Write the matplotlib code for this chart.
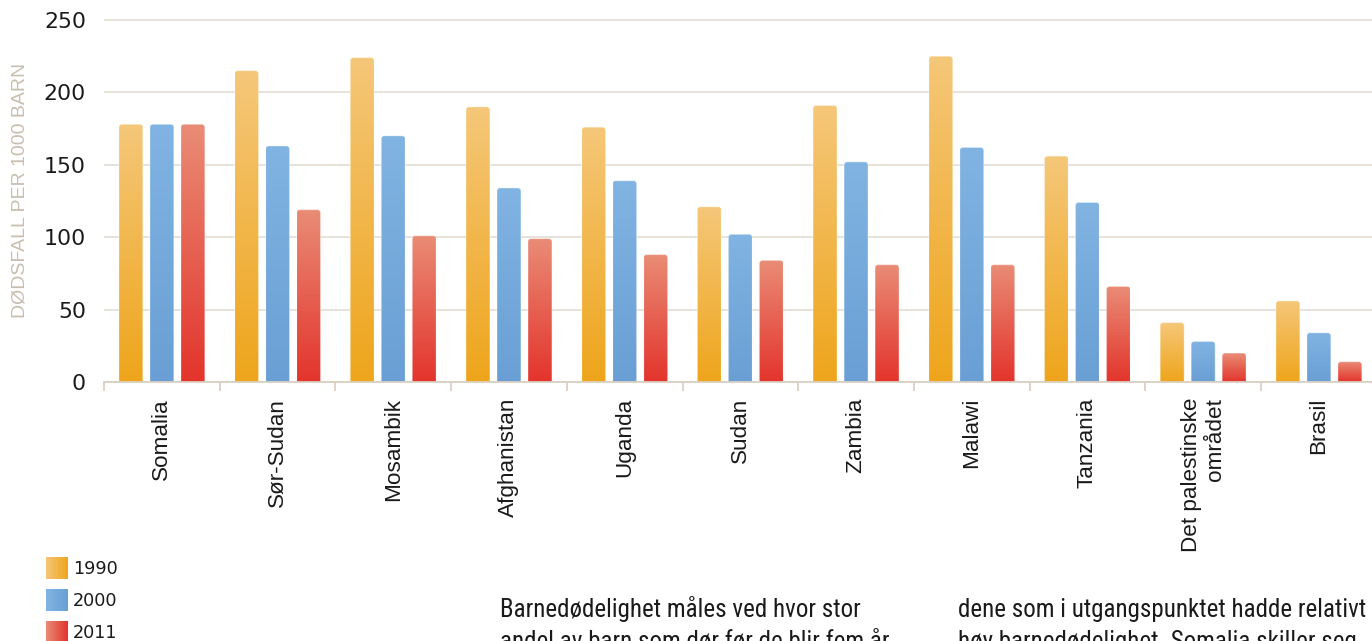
import numpy as np
import matplotlib
matplotlib.use("Agg")
import matplotlib.pyplot as plt
from matplotlib.patches import FancyBboxPatch
from matplotlib import font_manager
from matplotlib.colors import to_rgb

# ---- data -----------------------------------------------------------------
countries = ["Somalia", "Sør-Sudan", "Mosambik", "Afghanistan", "Uganda", "Sudan",
             "Zambia", "Malawi", "Tanzania", "Det palestinske\nområdet", "Brasil"]
years = ["1990", "2000", "2011"]
deaths_1990 = [178, 215, 224, 190, 176, 121, 191, 225, 156, 41, 56]
deaths_2000 = [178, 163, 170, 134, 139, 102, 152, 162, 124, 28, 34]
deaths_2011 = [178, 119, 101, 99, 88, 84, 81, 81, 66, 20, 14]
y_ticks = [0, 50, 100, 150, 200, 250]
y_label = "DØDSFALL PER 1000 BARN"
body_left = ["Barnedødelighet måles ved hvor stor",
             "andel av barn som dør før de blir fem år"]
body_right = ["dene som i utgangspunktet hadde relativt",
              "høy barnedødelighet. Somalia skiller seg"]

# ---- style ----------------------------------------------------------------
series = [deaths_1990, deaths_2000, deaths_2011]
gradients = [("#f5c779", "#eea51b"),   # top, bottom
             ("#81b4e2", "#6a9fd5"),
             ("#e98c76", "#e3342c")]
grid_col = "#e6e0d7"
axis_col = "#d9d0c2"
text_col = "#1a1a1a"

installed = {f.name for f in font_manager.fontManager.ttflist}
label_font = "Liberation Sans" if "Liberation Sans" in installed else "DejaVu Sans"
narrow_font = next((n for n in ["Liberation Sans Narrow", "Arial Narrow", "Roboto Condensed"]
                    if n in installed), None)

W, H = 1372, 641
fig = plt.figure(figsize=(W / 100, H / 100), dpi=100)

cat_px = 115.7
ymax = 252
px_per_unit = 362 / 250
ax = fig.add_axes([104 / W, (H - 382) / H, cat_px * 11 / W, px_per_unit * ymax / H])

x = np.arange(len(countries))
offsets = np.array([-31, 0, 31]) / cat_px
bar_w = 24 / cat_px
aspect = cat_px / px_per_unit
radius = 3 / cat_px


def gradient_img(top, bottom, n=256):
    t = np.linspace(0, 1, n)[:, None]
    c0 = np.array(to_rgb(top))
    c1 = np.array(to_rgb(bottom))
    return (c0 * (1 - t) + c1 * t)[:, None, :]


for vals, off, (top, bottom) in zip(series, offsets, gradients):
    bars = ax.bar(x + off, vals, bar_w, color="none", edgecolor="none")
    img = gradient_img(top, bottom)
    for rect in bars:
        x0, w, h = rect.get_x(), rect.get_width(), rect.get_height()
        shape = FancyBboxPatch((x0, -5), w, h + 5,
                               boxstyle=f"round,pad=0,rounding_size={radius}",
                               mutation_aspect=aspect,
                               facecolor="none", edgecolor=(1, 1, 1, 0.35),
                               linewidth=0.8, zorder=3)
        ax.add_patch(shape)
        im = ax.imshow(img, extent=(x0, x0 + w, 0, h), origin="upper",
                       aspect="auto", interpolation="bilinear", zorder=2)
        im.set_clip_path(shape)

ax.set_xlim(-0.5, len(countries) - 0.5)
ax.set_ylim(0, ymax)

# grid and axes
ax.set_yticks(y_ticks)
ax.yaxis.grid(True, color=grid_col, linewidth=1.3)
ax.set_axisbelow(True)
for s in ["top", "right", "left"]:
    ax.spines[s].set_visible(False)
ax.spines["bottom"].set_color(axis_col)
ax.spines["bottom"].set_linewidth(1.3)
ax.spines["bottom"].set_zorder(4)

ax.tick_params(axis="y", length=0, pad=13, labelsize=15.8, labelcolor=text_col)
for lab in ax.get_yticklabels():
    lab.set_family("DejaVu Sans")

ax.set_xticks(x)
ax.set_xticklabels(countries, rotation=90, family=label_font, fontsize=16.2,
                   color=text_col)
for lab in ax.get_xticklabels():
    lab.set_multialignment("right")
ax.tick_params(axis="x", which="major", length=0, pad=11.5)
ax.set_xticks(np.arange(-0.5, len(countries), 1), minor=True)
ax.tick_params(axis="x", which="minor", length=6.5, width=1.3, color=axis_col)

fig.text(20 / W, 1 - 190 / H, y_label, rotation=90, ha="center", va="center",
         fontsize=14, color="#c8beb0", family=label_font)

# ---- legend and body text in pixel coordinates ----------------------------
lax = fig.add_axes([0, 0, 1, 1])
lax.set_xlim(0, W)
lax.set_ylim(H, 0)
lax.axis("off")

for i, (yr, (top, bottom)) in enumerate(zip(years, gradients)):
    y0 = 557 + 32 * i
    hgrad = np.transpose(gradient_img(top, bottom), (1, 0, 2))
    lax.imshow(hgrad, extent=(46, 68, y0 + 22, y0), aspect="auto",
               interpolation="bilinear")
    lax.text(73, y0 + 12, yr, va="center", ha="left", fontsize=12.7,
             family="DejaVu Sans", color=text_col)
lax.set_xlim(0, W)
lax.set_ylim(H, 0)

body_kw = dict(va="baseline", ha="left", color=text_col)
if narrow_font:
    body_kw.update(family=narrow_font, fontsize=18)
else:
    body_kw.update(family=label_font, fontsize=16)
for j, (l, r) in enumerate(zip(body_left, body_right)):
    yb = 617 + 32 * j
    lax.text(500, yb, l, **body_kw)
    lax.text(958, yb, r, **body_kw)

fig.savefig("out.png", dpi=100)
